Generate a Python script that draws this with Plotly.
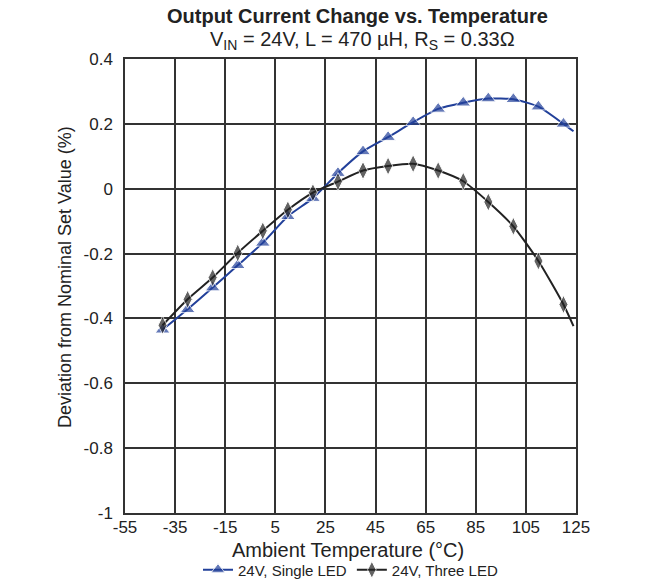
import plotly.graph_objects as go

# Data
temp = [-40, -30, -20, -10, 0, 10, 20, 30, 40, 50, 60, 70, 80, 90, 100, 110, 120, 124]
single_led = [-0.435, -0.372, -0.305, -0.236, -0.167, -0.085, -0.029, 0.048, 0.115, 0.159, 0.205, 0.246, 0.265, 0.278, 0.276, 0.253, 0.200, 0.177]
three_led = [-0.421, -0.341, -0.274, -0.198, -0.130, -0.065, -0.012, 0.022, 0.056, 0.070, 0.077, 0.056, 0.023, -0.041, -0.116, -0.223, -0.357, -0.424]

x_ticks = [-55, -35, -15, 5, 25, 45, 65, 85, 105, 125]
y_ticks = [0.4, 0.2, 0, -0.2, -0.4, -0.6, -0.8, -1]
y_tick_text = ["0.4", "0.2", "0", "-0.2", "-0.4", "-0.6", "-0.8", "-1"]

blue = "#22409a"
black = "#222222"

n = len(temp)
sizes_tri = [13] * (n - 1) + [0]
sizes_dia = [13] * (n - 1) + [0]

fig = go.Figure()
fig.add_trace(go.Scatter(
    x=temp, y=single_led, mode="lines+markers", name="24V, Single LED",
    line=dict(color=blue, width=2, shape="spline", smoothing=0.6),
    marker=dict(symbol="triangle-up", size=sizes_tri, color=blue),
))
fig.add_trace(go.Scatter(
    x=temp, y=three_led, mode="lines+markers", name="24V, Three LED",
    line=dict(color=black, width=2, shape="spline", smoothing=0.6),
    marker=dict(symbol="diamond-tall", size=sizes_dia, color=black),
))

font_family = "Liberation Sans, Arial, sans-serif"
axis_common = dict(
    showline=True, mirror=True, linecolor="#333", linewidth=1.5,
    showgrid=True, gridcolor="#333", gridwidth=1.5,
    zeroline=False, ticks="", automargin=False,
    tickfont=dict(family=font_family, size=17, color="#222"),
)

# The page body adds an 8px offset; screen targets: plot box 125..576 x 59..513
OFF = 8
W, H = 648, 579
left, right, top, bottom = 125 - OFF, 576 - OFF, 59 - OFF, 513 - OFF
plot_w = right - left
plot_h = bottom - top

def py(screen_y):
    return (bottom - (screen_y - OFF)) / plot_h

def px(screen_x):
    return ((screen_x - OFF) - left) / plot_w

fig.update_layout(
    width=W, height=H,
    paper_bgcolor="white", plot_bgcolor="white",
    margin=dict(l=left, r=W - right, t=top, b=H - bottom),
    font=dict(family=font_family, color="#222"),
    showlegend=True,
    legend=dict(orientation="h", x=0.5, xanchor="center",
                yref="container", y=(H - (570 - OFF)) / H, yanchor="middle",
                font=dict(size=15, color="#222"),
                bgcolor="rgba(0,0,0,0)"),
    xaxis=dict(range=[-55, 125], tickvals=x_ticks, ticktext=[str(v) for v in x_ticks],
               ticklabelstandoff=-2,
               **axis_common),
    yaxis=dict(range=[-1, 0.4], tickvals=y_ticks, ticktext=y_tick_text,
               ticklabelstandoff=7,
               **axis_common),
    annotations=[
        dict(text="<b>Output Current Change vs. Temperature</b>", xref="paper", yref="paper",
             x=px(357), y=py(16), xanchor="center", yanchor="middle", showarrow=False,
             font=dict(size=20, color="#222")),
        dict(text="V<sub>IN</sub> = 24V, L = 470 µH, R<sub>S</sub> = 0.33Ω", xref="paper", yref="paper",
             x=px(362), y=py(40), xanchor="center", yanchor="middle", showarrow=False,
             font=dict(size=20, color="#222")),
        dict(text="Ambient Temperature (°C)", xref="paper", yref="paper",
             x=px(348), y=py(550), xanchor="center", yanchor="middle", showarrow=False,
             font=dict(size=20, color="#222")),
        dict(text="Deviation from Nominal Set Value (%)", xref="paper", yref="paper",
             x=px(65), y=py(277), xanchor="center", yanchor="middle", showarrow=False,
             textangle=-90, font=dict(size=18, color="#222")),
    ],
)

fig.write_html("out.html")
